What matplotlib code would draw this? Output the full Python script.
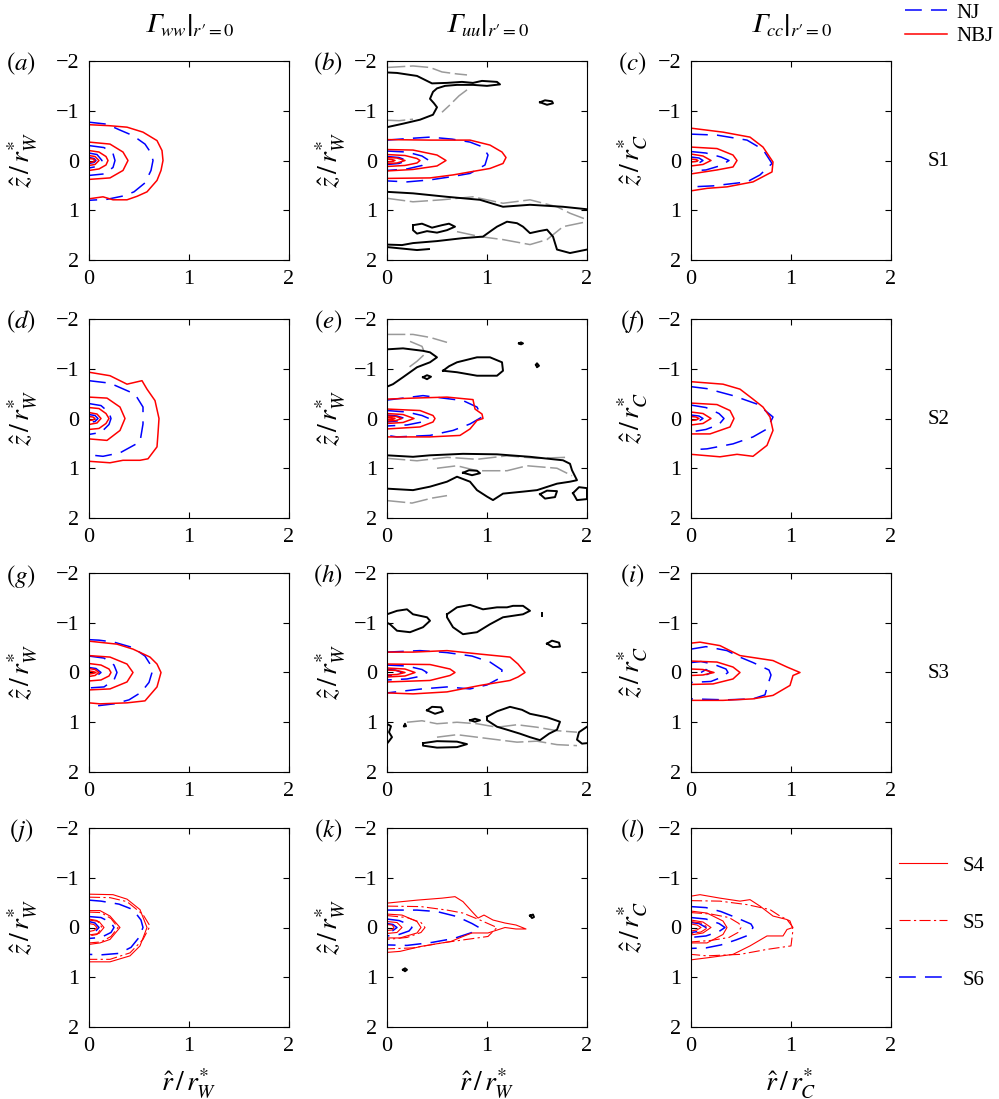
import matplotlib.pyplot as plt
from matplotlib.lines import Line2D

plt.rcParams['font.family'] = ['Liberation Serif', 'DejaVu Serif']
plt.rcParams['mathtext.fontset'] = 'stix'

# contour lines, each one a list of [r, z] points
# (a) Gamma_ww, S1
a_nbj = [
    [[0, -0.72], [0.2, -0.7], [0.38, -0.67], [0.54, -0.57], [0.68, -0.4], [0.73, -0.2], [0.74, 0], [0.72, 0.2],
     [0.68, 0.4], [0.58, 0.63], [0.48, 0.72], [0.38, 0.79], [0.24, 0.79], [0.14, 0.73], [0, 0.77]],
    [[0, -0.37], [0.21, -0.33], [0.34, -0.17], [0.39, 0], [0.34, 0.2], [0.21, 0.35], [0, 0.38]],
    [[0, -0.2], [0.1, -0.17], [0.17, -0.08], [0.19, 0], [0.17, 0.09], [0.1, 0.17], [0, 0.2]],
    [[0, -0.1], [0.06, -0.08], [0.1, 0], [0.06, 0.08], [0, 0.1]],
    [[0, -0.04], [0.04, -0.03], [0.06, 0], [0.04, 0.03], [0, 0.04]],
]
a_nj = [
    [[0, -0.77], [0.18, -0.73], [0.3, -0.62], [0.44, -0.5], [0.56, -0.33], [0.62, -0.15], [0.64, 0], [0.62, 0.2],
     [0.56, 0.45], [0.45, 0.63], [0.35, 0.71], [0.18, 0.78], [0, 0.8]],
    [[0, -0.3], [0.15, -0.26], [0.24, -0.14], [0.26, 0], [0.24, 0.14], [0.15, 0.27], [0, 0.3]],
    [[0, -0.15], [0.08, -0.12], [0.13, 0], [0.08, 0.12], [0, 0.15]],
    [[0, -0.06], [0.05, -0.04], [0.07, 0], [0.05, 0.04], [0, 0.06]],
]

# (b) Gamma_uu, S1
b_nbj = [
    [[0, -0.42], [0.43, -0.41], [0.83, -0.41], [1.03, -0.31], [1.15, -0.17], [1.19, -0.06], [1.16, 0.06],
     [1.03, 0.16], [0.83, 0.23], [0.66, 0.29], [0.43, 0.35], [0, 0.36]],
    [[0, -0.22], [0.26, -0.21], [0.5, -0.11], [0.59, 0], [0.5, 0.11], [0.26, 0.18], [0, 0.21]],
    [[0, -0.12], [0.18, -0.1], [0.3, -0.04], [0.33, 0], [0.3, 0.05], [0.18, 0.1], [0, 0.12]],
    [[0, -0.06], [0.1, -0.05], [0.18, 0], [0.1, 0.05], [0, 0.06]],
    [[0, -0.03], [0.05, -0.02], [0.08, 0], [0.05, 0.02], [0, 0.03]],
]
b_nj = [
    [[0, -0.41], [0.2, -0.44], [0.43, -0.47], [0.65, -0.43], [0.83, -0.37], [0.96, -0.27], [1.01, -0.11],
     [0.98, 0.09], [0.83, 0.26], [0.63, 0.33], [0.43, 0.39], [0.2, 0.43], [0, 0.41]],
    [[0, -0.19], [0.2, -0.17], [0.35, -0.09], [0.42, 0], [0.35, 0.1], [0.2, 0.17], [0, 0.2]],
    [[0, -0.08], [0.12, -0.06], [0.2, 0], [0.12, 0.06], [0, 0.08]],
]
b_pos = [
    [[0, -1.77], [0.1, -1.76], [0.2, -1.73], [0.3, -1.7], [0.38, -1.62], [0.45, -1.55], [0.6, -1.56],
     [0.75, -1.58], [0.86, -1.56], [0.95, -1.6], [1.1, -1.58], [1.13, -1.53], [1.0, -1.5], [0.86, -1.52],
     [0.7, -1.52], [0.58, -1.5], [0.5, -1.45], [0.46, -1.38], [0.43, -1.24], [0.47, -1.15], [0.5, -1.07],
     [0.46, -0.92], [0.33, -0.82], [0.16, -0.74], [0, -0.67]],
    [[1.53, -1.17], [1.58, -1.21], [1.65, -1.19], [1.66, -1.15], [1.6, -1.12], [1.53, -1.17]],
    [[0, 0.63], [0.26, 0.66], [0.6, 0.73], [0.93, 0.79], [1.16, 0.93], [1.43, 0.89], [1.76, 0.93], [2.0, 0.98]],
    [[0, 1.69], [0.15, 1.7], [0.26, 1.66], [0.5, 1.62], [0.76, 1.56], [0.96, 1.53], [1.05, 1.4], [1.1, 1.33],
     [1.2, 1.23], [1.3, 1.26], [1.36, 1.33], [1.43, 1.46], [1.52, 1.42], [1.6, 1.39], [1.66, 1.53],
     [1.7, 1.79], [1.83, 1.86], [2.0, 1.79]],
    [[0, 1.74], [0.15, 1.77], [0.3, 1.8], [0.42, 1.78]],
    [[0.26, 1.3], [0.35, 1.27], [0.45, 1.35], [0.55, 1.3], [0.62, 1.27], [0.68, 1.33], [0.6, 1.4],
     [0.5, 1.45], [0.4, 1.42], [0.3, 1.47], [0.26, 1.4], [0.26, 1.3]],
]
b_neg = [
    [[0, -1.87], [0.26, -1.9], [0.43, -1.87], [0.55, -1.78], [0.7, -1.74], [0.8, -1.72]],
    [[0.8, -1.42], [0.72, -1.3], [0.62, -1.1], [0.55, -0.97]],
    [[0, -0.81], [0.12, -0.8], [0.26, -0.83]],
    [[0, 0.76], [0.26, 0.83], [0.55, 0.79], [0.86, 0.73], [1.16, 0.86], [1.43, 0.79], [1.7, 0.93],
     [1.83, 1.06], [2.0, 1.19]],
    [[0.7, 1.43], [0.93, 1.53], [1.16, 1.59], [1.43, 1.69], [1.6, 1.59], [1.76, 1.33], [2.0, 1.23]],
]

# (c) Gamma_cc, S1
c_nbj = [
    [[0, -0.65], [0.32, -0.57], [0.59, -0.47], [0.72, -0.27], [0.82, 0.03], [0.81, 0.23], [0.62, 0.43],
     [0.36, 0.53], [0.16, 0.56], [0, 0.61]],
    [[0, -0.27], [0.26, -0.24], [0.42, -0.11], [0.46, 0], [0.42, 0.13], [0.26, 0.19], [0, 0.27]],
    [[0, -0.13], [0.12, -0.09], [0.2, 0], [0.12, 0.08], [0, 0.11]],
    [[0, -0.03], [0.05, -0.02], [0.07, 0], [0.05, 0.02], [0, 0.03]],
]
c_nj = [
    [[0, -0.53], [0.26, -0.51], [0.56, -0.41], [0.72, -0.22], [0.81, 0.06], [0.69, 0.29], [0.56, 0.43],
     [0.22, 0.51], [0, 0.53]],
    [[0, -0.18], [0.15, -0.15], [0.3, -0.07], [0.38, 0], [0.3, 0.1], [0.15, 0.19], [0, 0.21]],
    [[0, -0.07], [0.08, -0.05], [0.12, 0], [0.08, 0.05], [0, 0.07]],
]

# (d) Gamma_ww, S2
d_nbj = [
    [[0, -0.93], [0.21, -0.86], [0.38, -0.69], [0.53, -0.76], [0.58, -0.59], [0.66, -0.36], [0.7, 0],
     [0.69, 0.3], [0.68, 0.57], [0.59, 0.81], [0.51, 0.84], [0.34, 0.84], [0.21, 0.89], [0, 0.86]],
    [[0, -0.43], [0.18, -0.41], [0.31, -0.23], [0.36, 0], [0.31, 0.24], [0.18, 0.44], [0, 0.41]],
    [[0, -0.22], [0.1, -0.2], [0.17, -0.1], [0.2, 0], [0.17, 0.1], [0.1, 0.2], [0, 0.22]],
    [[0, -0.12], [0.08, -0.09], [0.12, 0], [0.08, 0.09], [0, 0.12]],
    [[0, -0.04], [0.04, -0.03], [0.06, 0], [0.04, 0.03], [0, 0.04]],
]
d_nj = [
    [[0, -0.76], [0.21, -0.71], [0.46, -0.49], [0.54, -0.23], [0.54, 0.11], [0.51, 0.47], [0.31, 0.69],
     [0.14, 0.76], [0, 0.73]],
    [[0, -0.3], [0.12, -0.26], [0.2, -0.12], [0.22, 0], [0.2, 0.12], [0.12, 0.28], [0, 0.32]],
    [[0, -0.08], [0.06, -0.06], [0.09, 0], [0.06, 0.06], [0, 0.08]],
]

# (e) Gamma_uu, S2
e_nbj = [
    [[0, -0.39], [0.26, -0.41], [0.6, -0.43], [0.86, -0.38], [0.88, -0.19], [0.95, -0.09], [0.96, 0],
     [0.9, 0.04], [0.83, 0.21], [0.73, 0.34], [0.43, 0.37], [0, 0.37]],
    [[0, -0.19], [0.33, -0.16], [0.46, -0.06], [0.48, 0], [0.46, 0.07], [0.33, 0.17], [0, 0.21]],
    [[0, -0.1], [0.16, -0.08], [0.27, 0], [0.16, 0.08], [0, 0.1]],
    [[0, -0.05], [0.09, -0.04], [0.15, 0], [0.09, 0.04], [0, 0.05]],
    [[0, -0.02], [0.05, -0.015], [0.08, 0], [0.05, 0.015], [0, 0.02]],
]
e_nj = [
    [[0, -0.37], [0.36, -0.46], [0.76, -0.36], [0.9, -0.23], [0.95, -0.03], [0.83, 0.11], [0.66, 0.24],
     [0.43, 0.34], [0.1, 0.37], [0, 0.34]],
    [[0, -0.16], [0.2, -0.13], [0.35, -0.06], [0.42, 0], [0.35, 0.07], [0.2, 0.13], [0, 0.15]],
    [[0, -0.07], [0.1, -0.05], [0.18, 0], [0.1, 0.05], [0, 0.07]],
]
e_pos = [
    [[0, -1.39], [0.16, -1.41], [0.36, -1.36], [0.43, -1.33], [0.5, -1.23], [0.43, -1.13], [0.3, -1.03],
     [0.16, -0.83], [0.06, -0.69], [0, -0.64]],
    [[0.56, -0.96], [0.62, -1.05], [0.7, -1.13], [0.9, -1.23], [1.03, -1.23], [1.15, -1.13], [1.16, -0.96],
     [1.1, -0.86], [0.9, -0.86], [0.7, -0.93], [0.56, -0.96]],
    [[0.36, -0.83], [0.4, -0.87], [0.44, -0.84], [0.4, -0.79], [0.36, -0.83]],
    [[1.32, -1.51], [1.34, -1.53], [1.36, -1.51], [1.34, -1.49], [1.32, -1.51]],
    [[1.49, -1.08], [1.5, -1.11], [1.52, -1.06], [1.5, -1.03], [1.49, -1.08]],
    [[0, 0.74], [0.26, 0.77], [0.43, 0.74], [0.76, 0.71], [1.1, 0.72], [1.43, 0.77], [1.76, 0.84],
     [1.83, 0.91], [1.85, 1.04], [1.9, 1.24], [1.83, 1.27], [1.7, 1.31], [1.5, 1.44], [1.36, 1.47],
     [1.16, 1.51], [1.06, 1.64], [1.0, 1.57], [0.9, 1.44], [0.83, 1.27], [0.7, 1.17], [0.6, 1.27],
     [0.43, 1.37], [0.26, 1.44], [0, 1.41]],
    [[0.76, 1.09], [0.82, 1.04], [0.9, 1.05], [0.93, 1.1], [0.85, 1.14], [0.76, 1.09]],
    [[1.53, 1.52], [1.6, 1.45], [1.7, 1.46], [1.68, 1.58], [1.58, 1.61], [1.53, 1.52]],
    [[1.86, 1.5], [1.92, 1.38], [2.0, 1.4], [2.0, 1.62], [1.9, 1.64], [1.86, 1.5]],
]
e_neg = [
    [[0, -1.69], [0.26, -1.69], [0.43, -1.63], [0.6, -1.53]],
    [[0.23, -1.55], [0.35, -1.45], [0.38, -1.3], [0.3, -1.15], [0.2, -1.0]],
    [[0, 0.8], [0.3, 0.85], [0.6, 0.78], [0.9, 0.82], [1.2, 0.75], [1.5, 0.8], [1.8, 0.78]],
    [[0.5, 1.0], [0.7, 0.95], [0.9, 1.05], [1.2, 1.05], [1.4, 0.95], [1.7, 1.0], [1.85, 1.15]],
    [[0, 1.65], [0.25, 1.7], [0.45, 1.6], [0.6, 1.55]],
]

# (f) Gamma_cc, S2
f_nbj = [
    [[0, -0.74], [0.32, -0.69], [0.49, -0.59], [0.62, -0.39], [0.72, -0.23], [0.79, -0.03], [0.82, 0.24],
     [0.76, 0.54], [0.62, 0.76], [0.46, 0.72], [0.29, 0.77], [0, 0.72]],
    [[0, -0.31], [0.26, -0.28], [0.39, -0.16], [0.43, 0], [0.39, 0.17], [0.19, 0.31], [0, 0.31]],
    [[0, -0.13], [0.12, -0.1], [0.2, 0], [0.12, 0.1], [0, 0.13]],
    [[0, -0.04], [0.05, -0.03], [0.08, 0], [0.05, 0.03], [0, 0.04]],
]
f_nj = [
    [[0, -0.64], [0.16, -0.6], [0.42, -0.46], [0.66, -0.29], [0.76, -0.13], [0.82, -0.03], [0.76, 0.21],
     [0.62, 0.37], [0.42, 0.51], [0.16, 0.61], [0, 0.63]],
    [[0, -0.27], [0.15, -0.22], [0.28, -0.1], [0.33, 0], [0.28, 0.12], [0.15, 0.22], [0, 0.27]],
    [[0, -0.07], [0.08, -0.05], [0.12, 0], [0.08, 0.05], [0, 0.07]],
]

# (g) Gamma_ww, S3
g_nbj = [
    [[0, -0.63], [0.28, -0.57], [0.44, -0.47], [0.61, -0.31], [0.68, -0.17], [0.72, 0], [0.68, 0.29],
     [0.56, 0.57], [0.38, 0.61], [0.11, 0.63], [0, 0.61]],
    [[0, -0.34], [0.21, -0.31], [0.38, -0.17], [0.44, 0], [0.38, 0.19], [0.21, 0.33], [0, 0.35]],
    [[0, -0.18], [0.12, -0.15], [0.2, -0.07], [0.22, 0], [0.2, 0.07], [0.12, 0.15], [0, 0.17]],
    [[0, -0.08], [0.06, -0.06], [0.1, 0], [0.06, 0.06], [0, 0.08]],
    [[0, -0.03], [0.04, -0.02], [0.07, 0], [0.04, 0.02], [0, 0.03]],
]
g_nj = [
    [[0, -0.66], [0.1, -0.65], [0.25, -0.61], [0.44, -0.5], [0.56, -0.33], [0.62, -0.14], [0.63, 0],
     [0.6, 0.2], [0.52, 0.4], [0.4, 0.55], [0.25, 0.63], [0.08, 0.67], [0, 0.66]],
    [[0, -0.33], [0.15, -0.29], [0.25, -0.15], [0.28, 0], [0.25, 0.15], [0.15, 0.29], [0, 0.31]],
    [[0, -0.1], [0.07, -0.08], [0.12, 0], [0.07, 0.08], [0, 0.1]],
]

# (h) Gamma_uu, S3
h_nbj = [
    [[0, -0.41], [0.26, -0.41], [0.6, -0.44], [0.93, -0.37], [1.23, -0.31], [1.31, -0.17], [1.38, 0],
     [1.31, 0.09], [1.23, 0.16], [0.93, 0.26], [0.6, 0.39], [0.26, 0.43], [0, 0.41]],
    [[0, -0.17], [0.43, -0.16], [0.63, -0.07], [0.68, 0], [0.63, 0.06], [0.43, 0.16], [0, 0.19]],
    [[0, -0.09], [0.18, -0.07], [0.28, 0], [0.18, 0.07], [0, 0.09]],
    [[0, -0.05], [0.1, -0.04], [0.18, 0], [0.1, 0.04], [0, 0.05]],
]
h_nj = [
    [[0, -0.41], [0.33, -0.44], [0.6, -0.4], [0.85, -0.33], [1.03, -0.21], [1.15, -0.05], [1.14, 0.1],
     [1.0, 0.25], [0.83, 0.33], [0.6, 0.29], [0.35, 0.33], [0, 0.41]],
    [[0, -0.15], [0.2, -0.13], [0.35, -0.06], [0.4, 0], [0.35, 0.07], [0.2, 0.13], [0, 0.15]],
    [[0, -0.06], [0.08, -0.05], [0.15, 0], [0.08, 0.05], [0, 0.06]],
]
h_pos = [
    [[0, -1.17], [0.1, -1.24], [0.2, -1.27], [0.26, -1.17], [0.4, -1.11], [0.43, -1.04], [0.36, -0.91],
     [0.23, -0.81], [0.1, -0.84], [0.03, -0.97], [0, -1.0]],
    [[0.6, -1.17], [0.7, -1.31], [0.83, -1.36], [0.96, -1.27], [1.1, -1.31], [1.2, -1.31], [1.26, -1.34],
     [1.36, -1.34], [1.43, -1.24], [1.36, -1.17], [1.26, -1.14], [1.16, -1.11], [1.03, -0.97], [0.9, -0.81],
     [0.76, -0.77], [0.66, -0.91], [0.6, -1.11], [0.6, -1.17]],
    [[1.55, -1.2], [1.55, -1.14]],
    [[1.6, -0.58], [1.65, -0.64], [1.72, -0.6], [1.73, -0.52], [1.66, -0.51], [1.6, -0.58]],
    [[0.4, 0.76], [0.45, 0.69], [0.54, 0.7], [0.56, 0.78], [0.48, 0.83], [0.4, 0.76]],
    [[0.83, 0.96], [0.88, 0.93], [0.93, 0.96], [0.88, 0.99], [0.83, 0.96]],
    [[1.0, 0.89], [1.1, 0.78], [1.23, 0.69], [1.35, 0.75], [1.43, 0.83], [1.6, 0.9], [1.73, 0.99],
     [1.7, 1.15], [1.62, 1.23], [1.53, 1.36], [1.43, 1.3], [1.33, 1.23], [1.2, 1.15], [1.1, 1.09],
     [1.0, 0.96], [1.0, 0.89]],
    [[0.36, 1.42], [0.5, 1.38], [0.7, 1.39], [0.8, 1.44], [0.7, 1.5], [0.5, 1.51], [0.36, 1.47], [0.36, 1.42]],
    [[0, 1.03], [0.04, 1.08], [0.02, 1.2], [0.05, 1.3], [0.02, 1.38], [0, 1.43]],
    [[2.0, 1.09], [1.92, 1.2], [1.9, 1.35], [1.95, 1.43], [2.0, 1.42]],
    [[0.17, 1.08], [0.18, 1.03], [0.19, 1.08], [0.17, 1.08]],
]
h_neg = [
    [[0.2, 1.0], [0.35, 0.97], [0.5, 1.03], [0.7, 1.0], [0.9, 1.03], [1.1, 1.1], [1.3, 1.05], [1.5, 1.1],
     [1.7, 1.17], [1.9, 1.2]],
    [[0.5, 1.3], [0.7, 1.25], [0.9, 1.3], [1.1, 1.35], [1.3, 1.4], [1.5, 1.38], [1.7, 1.45], [1.9, 1.47]],
]

# (i) Gamma_cc, S3
i_nbj = [
    [[0, -0.59], [0.09, -0.61], [0.29, -0.54], [0.49, -0.34], [0.82, -0.24], [0.96, -0.11], [1.09, 0],
     [1.02, 0.06], [0.99, 0.26], [0.82, 0.46], [0.62, 0.53], [0.32, 0.56], [0, 0.56]],
    [[0, -0.23], [0.26, -0.21], [0.42, -0.11], [0.49, 0], [0.42, 0.13], [0.22, 0.23], [0, 0.24]],
    [[0, -0.07], [0.12, -0.06], [0.23, 0], [0.12, 0.05], [0, 0.06]],
]
i_nj = [
    [[0, -0.47], [0.15, -0.52], [0.36, -0.44], [0.5, -0.3], [0.62, -0.2], [0.78, -0.05], [0.8, 0.05],
     [0.76, 0.3], [0.74, 0.45], [0.62, 0.53], [0.35, 0.55], [0, 0.53]],
    [[0, -0.2], [0.1, -0.22], [0.22, -0.17], [0.35, -0.07], [0.37, 0], [0.3, 0.1], [0.2, 0.18], [0, 0.2]],
    [[0.1, 0], [0.15, -0.06], [0.2, 0], [0.15, 0.05], [0.1, 0]],
]

# (j) Gamma_ww, S4-S6
j_s4 = [
    [[0, -0.67], [0.24, -0.66], [0.38, -0.57], [0.51, -0.36], [0.58, 0], [0.51, 0.37], [0.41, 0.57],
     [0.21, 0.69], [0, 0.69]],
    [[0, -0.34], [0.11, -0.34], [0.21, -0.23], [0.31, 0], [0.21, 0.24], [0.11, 0.31], [0, 0.34]],
    [[0, -0.15], [0.1, -0.12], [0.15, 0], [0.1, 0.12], [0, 0.15]],
    [[0, -0.08], [0.05, -0.06], [0.08, 0], [0.05, 0.06], [0, 0.08]],
]
j_s5 = [
    [[0, -0.61], [0.21, -0.6], [0.38, -0.52], [0.54, -0.26], [0.61, -0.03], [0.54, 0.24], [0.41, 0.51],
     [0.21, 0.64], [0, 0.64]],
    [[0, -0.31], [0.12, -0.3], [0.22, -0.18], [0.29, 0], [0.22, 0.18], [0.12, 0.29], [0, 0.31]],
    [[0, -0.17], [0.08, -0.14], [0.13, 0], [0.08, 0.14], [0, 0.17]],
]
j_s6 = [
    [[0, -0.55], [0.12, -0.53], [0.3, -0.47], [0.44, -0.36], [0.52, -0.15], [0.54, 0], [0.5, 0.2],
     [0.42, 0.4], [0.3, 0.52], [0.12, 0.55], [0, 0.54]],
    [[0, -0.22], [0.12, -0.2], [0.22, -0.1], [0.25, 0], [0.22, 0.1], [0.12, 0.2], [0, 0.22]],
    [[0, -0.12], [0.06, -0.09], [0.1, 0], [0.06, 0.09], [0, 0.12]],
]

# (k) Gamma_uu, S4-S6
k_s4 = [
    [[0, -0.49], [0.3, -0.55], [0.55, -0.59], [0.68, -0.62], [0.76, -0.52], [0.85, -0.32], [0.91, -0.19],
     [0.97, -0.25], [1.06, -0.15], [1.18, -0.09], [1.29, -0.05], [1.39, 0.03], [1.29, 0.03], [1.18, 0.0],
     [1.01, 0.11], [0.85, 0.11], [0.76, 0.18], [0.64, 0.28], [0.34, 0.38], [0.13, 0.48], [0, 0.5]],
    [[0, -0.27], [0.15, -0.25], [0.3, -0.12], [0.34, 0], [0.3, 0.11], [0.13, 0.21], [0, 0.21]],
    [[0, -0.12], [0.1, -0.1], [0.15, 0], [0.1, 0.1], [0, 0.12]],
    [[0, -0.06], [0.05, -0.05], [0.07, 0], [0.05, 0.05], [0, 0.06]],
]
k_s5 = [
    [[0, -0.43], [0.34, -0.42], [0.6, -0.35], [0.76, -0.29], [0.93, -0.15], [1.1, 0.0], [1.01, 0.18],
     [0.76, 0.25], [0.55, 0.31], [0.26, 0.41], [0, 0.43]],
    [[0, -0.24], [0.2, -0.2], [0.34, -0.1], [0.38, 0], [0.34, 0.1], [0.2, 0.2], [0, 0.24]],
]
k_s6 = [
    [[0, -0.35], [0.3, -0.35], [0.5, -0.32], [0.7, -0.22], [0.85, -0.08], [0.92, 0], [0.85, 0.1],
     [0.67, 0.22], [0.45, 0.3], [0.2, 0.36], [0, 0.35]],
    [[0, -0.17], [0.12, -0.14], [0.22, -0.06], [0.25, 0], [0.22, 0.07], [0.12, 0.14], [0, 0.17]],
    [[0, -0.08], [0.06, -0.06], [0.1, 0], [0.06, 0.06], [0, 0.08]],
]
k_pos = [
    [[0.16, 0.85], [0.18, 0.82], [0.2, 0.85], [0.18, 0.88], [0.16, 0.85]],
    [[1.43, -0.24], [1.46, -0.26], [1.47, -0.21], [1.45, -0.19], [1.43, -0.24]],
]

# (l) Gamma_cc, S4-S6
l_s4 = [
    [[0, -0.63], [0.09, -0.66], [0.29, -0.59], [0.49, -0.53], [0.59, -0.56], [0.69, -0.43], [0.82, -0.23],
     [0.96, -0.16], [1.02, 0], [0.96, 0.04], [0.92, 0.17], [0.76, 0.17], [0.59, 0.37], [0.42, 0.54],
     [0.16, 0.61], [0, 0.65]],
    [[0, -0.33], [0.16, -0.29], [0.32, -0.13], [0.36, 0], [0.32, 0.14], [0.16, 0.31], [0, 0.31]],
    [[0, -0.15], [0.12, -0.11], [0.2, 0], [0.12, 0.11], [0, 0.15]],
    [[0, -0.07], [0.06, -0.05], [0.1, 0], [0.06, 0.05], [0, 0.07]],
]
l_s5 = [
    [[0, -0.54], [0.29, -0.53], [0.56, -0.46], [0.79, -0.36], [0.89, -0.23], [0.99, -0.13], [1.02, 0.04],
     [1.0, 0.37], [0.76, 0.44], [0.49, 0.54], [0.16, 0.57], [0, 0.54]],
    [[0, -0.3], [0.2, -0.27], [0.38, -0.2], [0.48, -0.08], [0.5, 0], [0.47, 0.1], [0.38, 0.2], [0.2, 0.26],
     [0, 0.29]],
    [[0, -0.12], [0.1, -0.09], [0.17, 0], [0.1, 0.09], [0, 0.12]],
]
l_s6 = [
    [[0, -0.42], [0.15, -0.4], [0.3, -0.32], [0.45, -0.2], [0.6, -0.07], [0.62, 0], [0.58, 0.15],
     [0.45, 0.25], [0.3, 0.35], [0.15, 0.41], [0, 0.42]],
    [[0, -0.2], [0.15, -0.17], [0.28, -0.08], [0.34, 0], [0.28, 0.08], [0.15, 0.17], [0, 0.2]],
    [[0, -0.1], [0.08, -0.08], [0.15, 0], [0.08, 0.08], [0, 0.1]],
]

col_titles = ["$\\left.\U0001D6E4_{ww}\\right|_{r\u2032=0}$",
              "$\\left.\U0001D6E4_{uu}\\right|_{r\u2032=0}$",
              "$\\left.\U0001D6E4_{cc}\\right|_{r\u2032=0}$"]
ylabels = [r'$\hat{z}\,/\,r^{*}_{W}$', r'$\hat{z}\,/\,r^{*}_{W}$', r'$\hat{z}\,/\,r^{*}_{C}$']
xlabels = [r'$\hat{r}\,/\,r^{*}_{W}$', r'$\hat{r}\,/\,r^{*}_{W}$', r'$\hat{r}\,/\,r^{*}_{C}$']
row_names = ['S1', 'S2', 'S3']
letters = 'abcdefghijkl'

# line styles
NBJ = dict(color='#ff0000', lw=1.1)
NJ = dict(color='#0000ff', lw=1.1, ls=(0, (11, 6)))
POS = dict(color='black', lw=1.4)
NEG = dict(color='#9a9a9a', lw=1.1, ls=(0, (12, 3)))
S4 = dict(color='#ff0000', lw=0.8)
S5 = dict(color='#ff0000', lw=0.8, ls=(0, (10, 3, 2, 3)))
S6 = dict(color='#0000ff', lw=1.1, ls=(0, (11, 6)))

panels = [
    [(a_nj, NJ), (a_nbj, NBJ)],
    [(b_neg, NEG), (b_pos, POS), (b_nj, NJ), (b_nbj, NBJ)],
    [(c_nj, NJ), (c_nbj, NBJ)],
    [(d_nj, NJ), (d_nbj, NBJ)],
    [(e_neg, NEG), (e_pos, POS), (e_nj, NJ), (e_nbj, NBJ)],
    [(f_nj, NJ), (f_nbj, NBJ)],
    [(g_nj, NJ), (g_nbj, NBJ)],
    [(h_neg, NEG), (h_pos, POS), (h_nj, NJ), (h_nbj, NBJ)],
    [(i_nj, NJ), (i_nbj, NBJ)],
    [(j_s6, S6), (j_s5, S5), (j_s4, S4)],
    [(k_pos, POS), (k_s6, S6), (k_s5, S5), (k_s4, S4)],
    [(l_s6, S6), (l_s5, S5), (l_s4, S4)],
]

W, H = 999, 1099
fig = plt.figure(figsize=(W / 100, H / 100), dpi=100)

col_left = [89, 387, 691]
row_top = [61, 319, 573, 828]
ylab_x = [-0.245, -0.195, -0.207]
lab_dx = [68, 59, 59]

for n, layers in enumerate(panels):
    row, col = divmod(n, 3)
    ax = fig.add_axes([col_left[col] / W, 1 - (row_top[row] + 199) / H, 200 / W, 199 / H])
    for contours, style in layers:
        for c in contours:
            ax.plot([p[0] for p in c], [p[1] for p in c], **style)
    ax.set_xlim(0, 2)
    ax.set_ylim(2, -2)
    ax.set_xticks([0, 1, 2])
    ax.set_yticks([-2, -1, 0, 1, 2])
    ax.tick_params(direction='in', top=True, right=True, length=4, width=0.8,
                   labelsize=16, pad=7)
    for s in ax.spines.values():
        s.set_linewidth(0.8)
    ax.set_ylabel(ylabels[col], fontsize=20)
    ax.yaxis.set_label_coords(ylab_x[col], 0.5)
    if row == 3:
        ax.set_xlabel(xlabels[col], fontsize=20)
        ax.xaxis.set_label_coords(0.5, -0.2)
    fig.text((col_left[col] - lab_dx[col]) / W, 1 - (row_top[row] + 3) / H,
             r'$(\mathit{%s})$' % letters[n], fontsize=18, ha='center', va='center')

for col in range(3):
    fig.text((col_left[col] + 100) / W, 1 - 25 / H, col_titles[col], fontsize=19,
             ha='center', va='center')

for row in range(3):
    fig.text(928 / W, 1 - (row_top[row] + 100) / H, row_names[row], fontsize=15,
             ha='left', va='center')

fig.legend(handles=[Line2D([], [], label='NJ', **NJ), Line2D([], [], label='NBJ', **NBJ)],
           loc='upper left', bbox_to_anchor=(905 / W, 1 - 3 / H), frameon=False, fontsize=15,
           handlelength=2.0, handletextpad=0.45, labelspacing=0.2, borderpad=0, borderaxespad=0)
fig.legend(handles=[Line2D([], [], label='S4', **S4), Line2D([], [], label='S5', **S5),
                    Line2D([], [], label='S6', **S6)],
           loc='upper left', bbox_to_anchor=(899 / W, 1 - 856 / H), frameon=False, fontsize=15,
           handlelength=2.3, handletextpad=0.75, labelspacing=1.8, borderpad=0, borderaxespad=0)

fig.savefig('out.png', dpi=100)
